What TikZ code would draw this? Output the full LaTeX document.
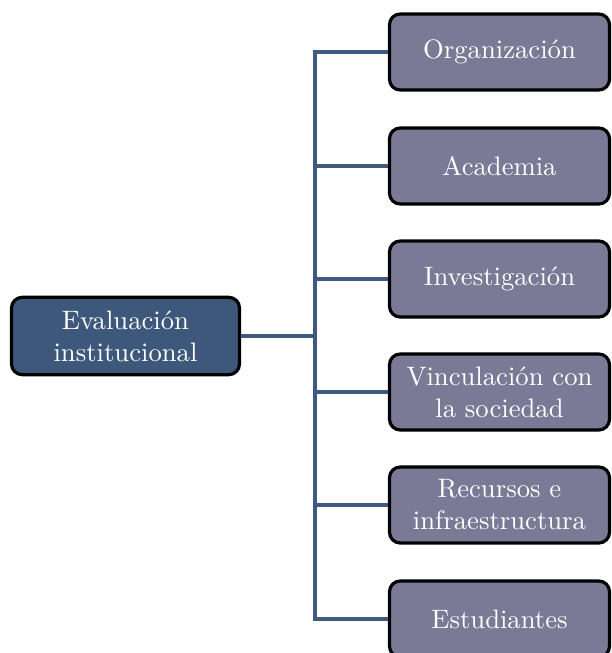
\documentclass[tikz,border=0pt]{standalone}
\usepackage{tikz}
\usetikzlibrary{positioning,calc}
\definecolor{RootBlue}{RGB}{61,88,122}
\definecolor{AreaGray}{RGB}{122,122,150}
\definecolor{LinkBlue}{RGB}{62,90,126}
\tikzset{
  root/.style={draw=black,fill=RootBlue,text=white,line width=1.2pt,rounded corners=4pt,
    minimum width=85.5pt,minimum height=29pt,align=center,inner sep=2pt},
  area/.style={draw=black,fill=AreaGray,text=white,line width=1.2pt,rounded corners=4pt,
    minimum width=82.5pt,minimum height=28.5pt,align=center,inner sep=2pt},
  link/.style={draw=LinkBlue,line width=1.15pt},
}

\begin{document}
\begin{tikzpicture}[x=0.375pt,y=-0.375pt]
\useasboundingbox (0,0) rectangle (611,653);
\coordinate (j) at (315,336);
\node[root] (eval) at (125.5,336) {Evaluación\\institucional};
\node[area] (org) at (499.5,52) {Organización};
\node[area] (aca) at (499.5,166) {Academia};
\node[area] (inv) at (499.5,279) {Investigación};
\node[area] (vin) at (499.5,392) {Vinculación con\\la sociedad};
\node[area] (rec) at (499.5,505) {Recursos e\\infraestructura};
\node[area] (est) at (499.5,619) {Estudiantes};
\draw[link] (eval) -- (j);
\draw[link] (j) |- (org);
\draw[link] (j) |- (aca);
\draw[link] (j) |- (inv);
\draw[link] (j) |- (vin);
\draw[link] (j) |- (rec);
\draw[link] (j) |- (est);
\end{tikzpicture}
\end{document}
